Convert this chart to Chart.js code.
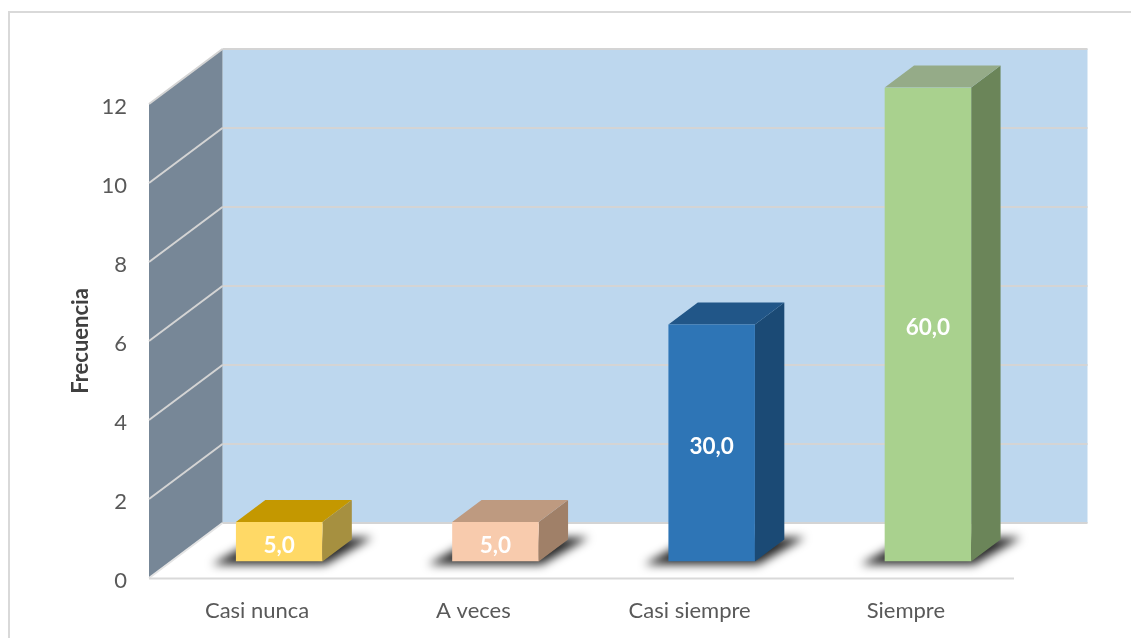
<!DOCTYPE html>
<html><head><meta charset="utf-8">
<style>html,body{margin:0;padding:0;background:#fff}#w{width:1131px;height:638px;position:relative}canvas{display:block}</style>
<script src="https://cdn.jsdelivr.net/npm/chart.js@4"></script>
</head><body><div id="w"><canvas id="c" width="1131" height="638"></canvas></div>
<script>
const categories = ["Casi nunca", "A veces", "Casi siempre", "Siempre"];
const frecuencia = [1, 1, 6, 12];
const porcentaje = ["5,0", "5,0", "30,0", "60,0"];
const frontColors = ["#FFD966", "#F8CBAD", "#2E75B6", "#A9D18E"];
const topColors = ["#C49800", "#BE9A80", "#215688", "#95AB88"];
const sideColors = ["#A69040", "#A08068", "#1B4A75", "#6B8559"];
const FONT = "Lato, Carlito, 'Open Sans', sans-serif";
const DEPTH_X = 73.5, DEPTH_Y = -55;
const BAR_START = 0.3, BAR_END = 0.7;

function poly(ctx, pts, fill) {
  ctx.beginPath();
  pts.forEach((p, i) => i ? ctx.lineTo(p[0], p[1]) : ctx.moveTo(p[0], p[1]));
  ctx.closePath();
  ctx.fillStyle = fill;
  ctx.fill();
}
function line(ctx, a, b, color, w) {
  ctx.beginPath(); ctx.moveTo(a[0], a[1]); ctx.lineTo(b[0], b[1]);
  ctx.strokeStyle = color; ctx.lineWidth = w; ctx.stroke();
}

const scene3d = {
  id: "scene3d",
  beforeDraw(chart) {
    const ctx = chart.ctx, ca = chart.chartArea, y = chart.scales.y;
    const L = ca.left, R = ca.right, T = ca.top, B = ca.bottom;
    ctx.save();
    ctx.strokeStyle = "#D9D9D9"; ctx.lineWidth = 2;
    ctx.beginPath(); ctx.moveTo(9, 650); ctx.lineTo(9, 12); ctx.lineTo(1140, 12); ctx.stroke();
    poly(ctx, [[L + DEPTH_X, T + DEPTH_Y], [R + DEPTH_X, T + DEPTH_Y], [R + DEPTH_X, B + DEPTH_Y], [L + DEPTH_X, B + DEPTH_Y]], "#BDD7EE");
    poly(ctx, [[L, T], [L + DEPTH_X, T + DEPTH_Y], [L + DEPTH_X, B + DEPTH_Y], [L, B]], "#778797");
    y.ticks.forEach(t => {
      const py = y.getPixelForValue(t.value);
      line(ctx, [L + DEPTH_X, py + DEPTH_Y], [R + DEPTH_X, py + DEPTH_Y], "#D4D4D4", 2);
      line(ctx, [L, py], [L + DEPTH_X, py + DEPTH_Y], t.value === 0 ? "#E4E4E4" : "#D4D4D4", 2);
    });
    line(ctx, [L, B + 0.5], [R, B + 0.5], "#D9D9D9", 2);
    ctx.restore();
  },
  beforeDatasetsDraw(chart) {
    const ctx = chart.ctx, meta = chart.getDatasetMeta(0), y = chart.scales.y;
    const ox = DEPTH_X * BAR_START, oy = DEPTH_Y * BAR_START;
    const dx = DEPTH_X * (BAR_END - BAR_START), dy = DEPTH_Y * (BAR_END - BAR_START);
    const base = y.getPixelForValue(0);
    ctx.save();
    meta.data.forEach(bar => {
      const l = bar.x - bar.width / 2 + ox, r = bar.x + bar.width / 2 + ox, b = base + oy;
      ctx.save();
      ctx.filter = "blur(5px)";
      poly(ctx, [[l - 24, b + 3], [r + 3, b + 3], [r + 50, b - 24], [l + 24, b - 24]], "rgba(0,0,0,0.85)");
      ctx.restore();
    });
    meta.data.forEach((bar, i) => {
      const l = bar.x - bar.width / 2 + ox, r = bar.x + bar.width / 2 + ox;
      const t = bar.y + oy, b = base + oy;
      poly(ctx, [[r, t], [r + dx, t + dy], [r + dx, b + dy], [r, b]], sideColors[i]);
      poly(ctx, [[l, t], [l + dx, t + dy], [r + dx, t + dy], [r, t]], topColors[i]);
    });
    ctx.restore();
    ctx.save();
    ctx.translate(ox, oy);
  },
  afterDatasetsDraw(chart) {
    const ctx = chart.ctx, meta = chart.getDatasetMeta(0), y = chart.scales.y;
    ctx.restore();
    const ox = DEPTH_X * BAR_START, oy = DEPTH_Y * BAR_START;
    ctx.save();
    ctx.font = "bold 22.5px " + FONT;
    ctx.fillStyle = "#FFFFFF";
    ctx.textAlign = "center"; ctx.textBaseline = "middle";
    meta.data.forEach((bar, i) => {
      const cy = (bar.y + y.getPixelForValue(0)) / 2 + oy;
      ctx.fillText(porcentaje[i], bar.x + ox, cy + 3.5);
    });
    ctx.restore();
  }
};

new Chart(document.getElementById("c"), {
  type: "bar",
  data: {
    labels: categories,
    datasets: [{
      label: "Frecuencia",
      data: frecuencia,
      backgroundColor: frontColors,
      barPercentage: 0.4,
      categoryPercentage: 1
    }]
  },
  plugins: [scene3d],
  options: {
    responsive: false,
    animation: false,
    events: [],
    layout: { padding: { left: 68, top: 104, right: 117, bottom: 0 } },
    plugins: { legend: { display: false }, tooltip: { enabled: false }, title: { display: false } },
    scales: {
      x: {
        grid: { display: false, drawTicks: false },
        border: { display: false },
        ticks: { color: "#595959", font: { family: FONT, size: 22 }, padding: 20, maxRotation: 0 },
        afterFit(s) { s.height = 60; }
      },
      y: {
        min: 0, max: 12,
        grid: { display: false, drawTicks: false },
        border: { display: false },
        ticks: { stepSize: 2, color: "#595959", font: { family: FONT, size: 22 }, padding: 22, labelOffset: 3 },
        title: { display: true, text: "Frecuencia", color: "#404040", font: { family: FONT, size: 22, weight: "bold" }, padding: 0 },
        afterFit(s) { s.width = 81; }
      }
    }
  }
});
</script></body></html>
